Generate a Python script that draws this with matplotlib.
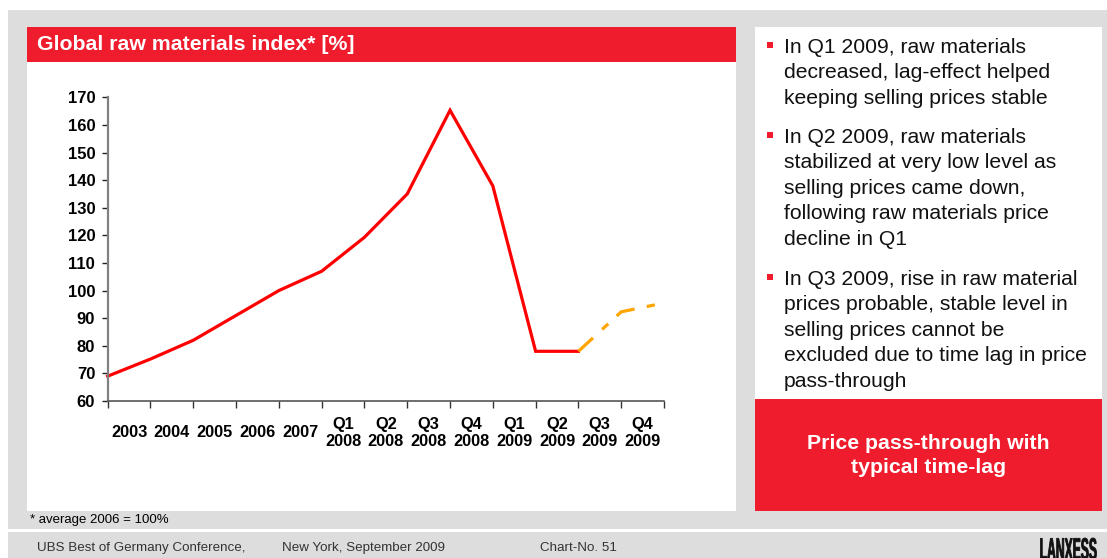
import matplotlib
matplotlib.use('Agg')
import matplotlib.pyplot as plt
from matplotlib.patches import Rectangle, PathPatch
from matplotlib.textpath import TextPath
from matplotlib.font_manager import FontProperties
from matplotlib.transforms import Affine2D

# data: index values (average 2006 = 100), points sit on tick marks
periods = ['2003', '2004', '2005', '2006', '2007',
           'Q1\n2008', 'Q2\n2008', 'Q3\n2008', 'Q4\n2008',
           'Q1\n2009', 'Q2\n2009', 'Q3\n2009', 'Q4\n2009']
actual_idx = list(range(12))
actual_vals = [69, 75.2, 82, 91, 100, 107, 119.3, 135, 165.3, 137.9, 78, 78]
forecast_idx = [11, 12, 13]
forecast_vals = [78, 92.3, 95.5]
yticks = list(range(60, 171, 10))

bullets = [
    "In Q1 2009, raw materials\ndecreased, lag-effect helped\nkeeping selling prices stable",
    "In Q2 2009, raw materials\nstabilized at very low level as\nselling prices came down,\nfollowing raw materials price\ndecline in Q1",
    "In Q3 2009, rise in raw material\nprices probable, stable level in\nselling prices cannot be\nexcluded due to time lag in price\npass-through",
]
bullet_y = [46, 136, 278]

RED = '#EE1C2D'
GRAY = '#DDDDDD'
W, H = 1107, 558

arial = ['Liberation Sans', 'DejaVu Sans']

fig = plt.figure(figsize=(W / 100, H / 100), dpi=100)
fig.patch.set_facecolor('white')


def box(x0, y0, x1, y1, color, z=-5):
    # pixel coords, y measured from top
    fig.patches.append(Rectangle((x0 / W, 1 - y1 / H), (x1 - x0) / W, (y1 - y0) / H,
                                 transform=fig.transFigure, facecolor=color,
                                 edgecolor='none', zorder=z))


def ftext(x, y, s, **kw):
    return fig.text(x / W, 1 - y / H, s, **kw)


# background panels
box(8, 10, W, 529, GRAY)
box(8, 532, W, H, GRAY)
box(27, 27, 736, 511, 'white', -4)
box(27, 27, 736, 62, RED, -3)
box(755, 27, 1102, 399, 'white', -4)
box(755, 399, 1102, 511, RED, -3)

ftext(37, 45, 'Global raw materials index* [%]', color='white', fontsize=15.3,
      fontweight='bold', family=arial, va='center', ha='left')

# chart
x0, x1, ytop, ybot = 107.7, 664, 97.3, 401
ax = fig.add_axes([x0 / W, 1 - ybot / H, (x1 - x0) / W, (ybot - ytop) / H])
ax.set_facecolor('none')
ax.plot(actual_idx, actual_vals, color='#FF0000', lw=2.3, solid_joinstyle='miter', clip_on=False)
ax.plot(forecast_idx, forecast_vals, color='#FFA500', lw=2.3, dashes=(6.2, 3.9, 2.6, 3.6),
        clip_on=False)

ax.set_xlim(0, 13)
ax.set_ylim(60, 170)
ax.set_yticks(yticks)
ax.set_yticklabels([str(v) for v in yticks], fontsize=12, fontweight='bold', family=arial)
ax.set_xticks(range(14))
ax.set_xticklabels([])
ax.set_xticks([i + 0.5 for i in range(13)], minor=True)
ax.set_xticklabels(periods, minor=True, fontsize=11.8, fontweight='bold', family=arial)
for lbl in ax.get_xticklabels(minor=True):
    lbl.set_va('center')
    lbl.set_multialignment('center')
    lbl.set_linespacing(1.1)
ax.tick_params(axis='x', which='major', direction='out', length=5, width=1, color='#333333')
ax.tick_params(axis='x', which='minor', length=0, pad=23)
ax.tick_params(axis='y', direction='out', length=4, width=1, color='#222222', pad=5)
for side in ['top', 'right']:
    ax.spines[side].set_visible(False)
ax.spines['left'].set_color('#808080')
ax.spines['left'].set_linewidth(1.6)
ax.spines['bottom'].set_color('#555555')
ax.spines['bottom'].set_linewidth(1.2)

# right panel bullets
for yc, txt in zip(bullet_y, bullets):
    box(767, yc - 4, 773, yc + 2, RED, -2)
    ftext(784, yc - 8, txt, fontsize=15.2, family=arial, color='#111111',
          va='top', ha='left', linespacing=1.43)

ftext(928.5, 455.5, 'Price pass-through with\ntypical time-lag', color='white',
      fontsize=15.3, fontweight='bold', family=arial, ha='center', va='center',
      linespacing=1.3)

# footnote and footer
ftext(30, 520, '* average 2006 = 100%', fontsize=9.5, family=arial, va='center')
ftext(37, 548, 'UBS Best of Germany Conference,', fontsize=9.6, family=arial,
      color='#333333', va='center')
ftext(282, 548, 'New York, September 2009', fontsize=9.6, family=arial,
      color='#333333', va='center')
ftext(540, 548, 'Chart-No. 51', fontsize=9.6, family=arial, color='#333333', va='center')

# condensed logo word, squeezed horizontally
logo = TextPath((0, 0), 'LANXESS', size=20,
                prop=FontProperties(family='Liberation Sans', weight='bold'))
ext = logo.get_extents()
sx = 56 / ext.width
sy = 22 / ext.height
logo_tf = Affine2D().translate(-ext.x0, -ext.y0).scale(sx, sy).translate(1040.5, H - 538 - 22)
fig.patches.append(PathPatch(logo, transform=logo_tf, facecolor='#111111',
                             edgecolor='#111111', linewidth=0.6, zorder=5))

fig.savefig('out.png', dpi=100)
